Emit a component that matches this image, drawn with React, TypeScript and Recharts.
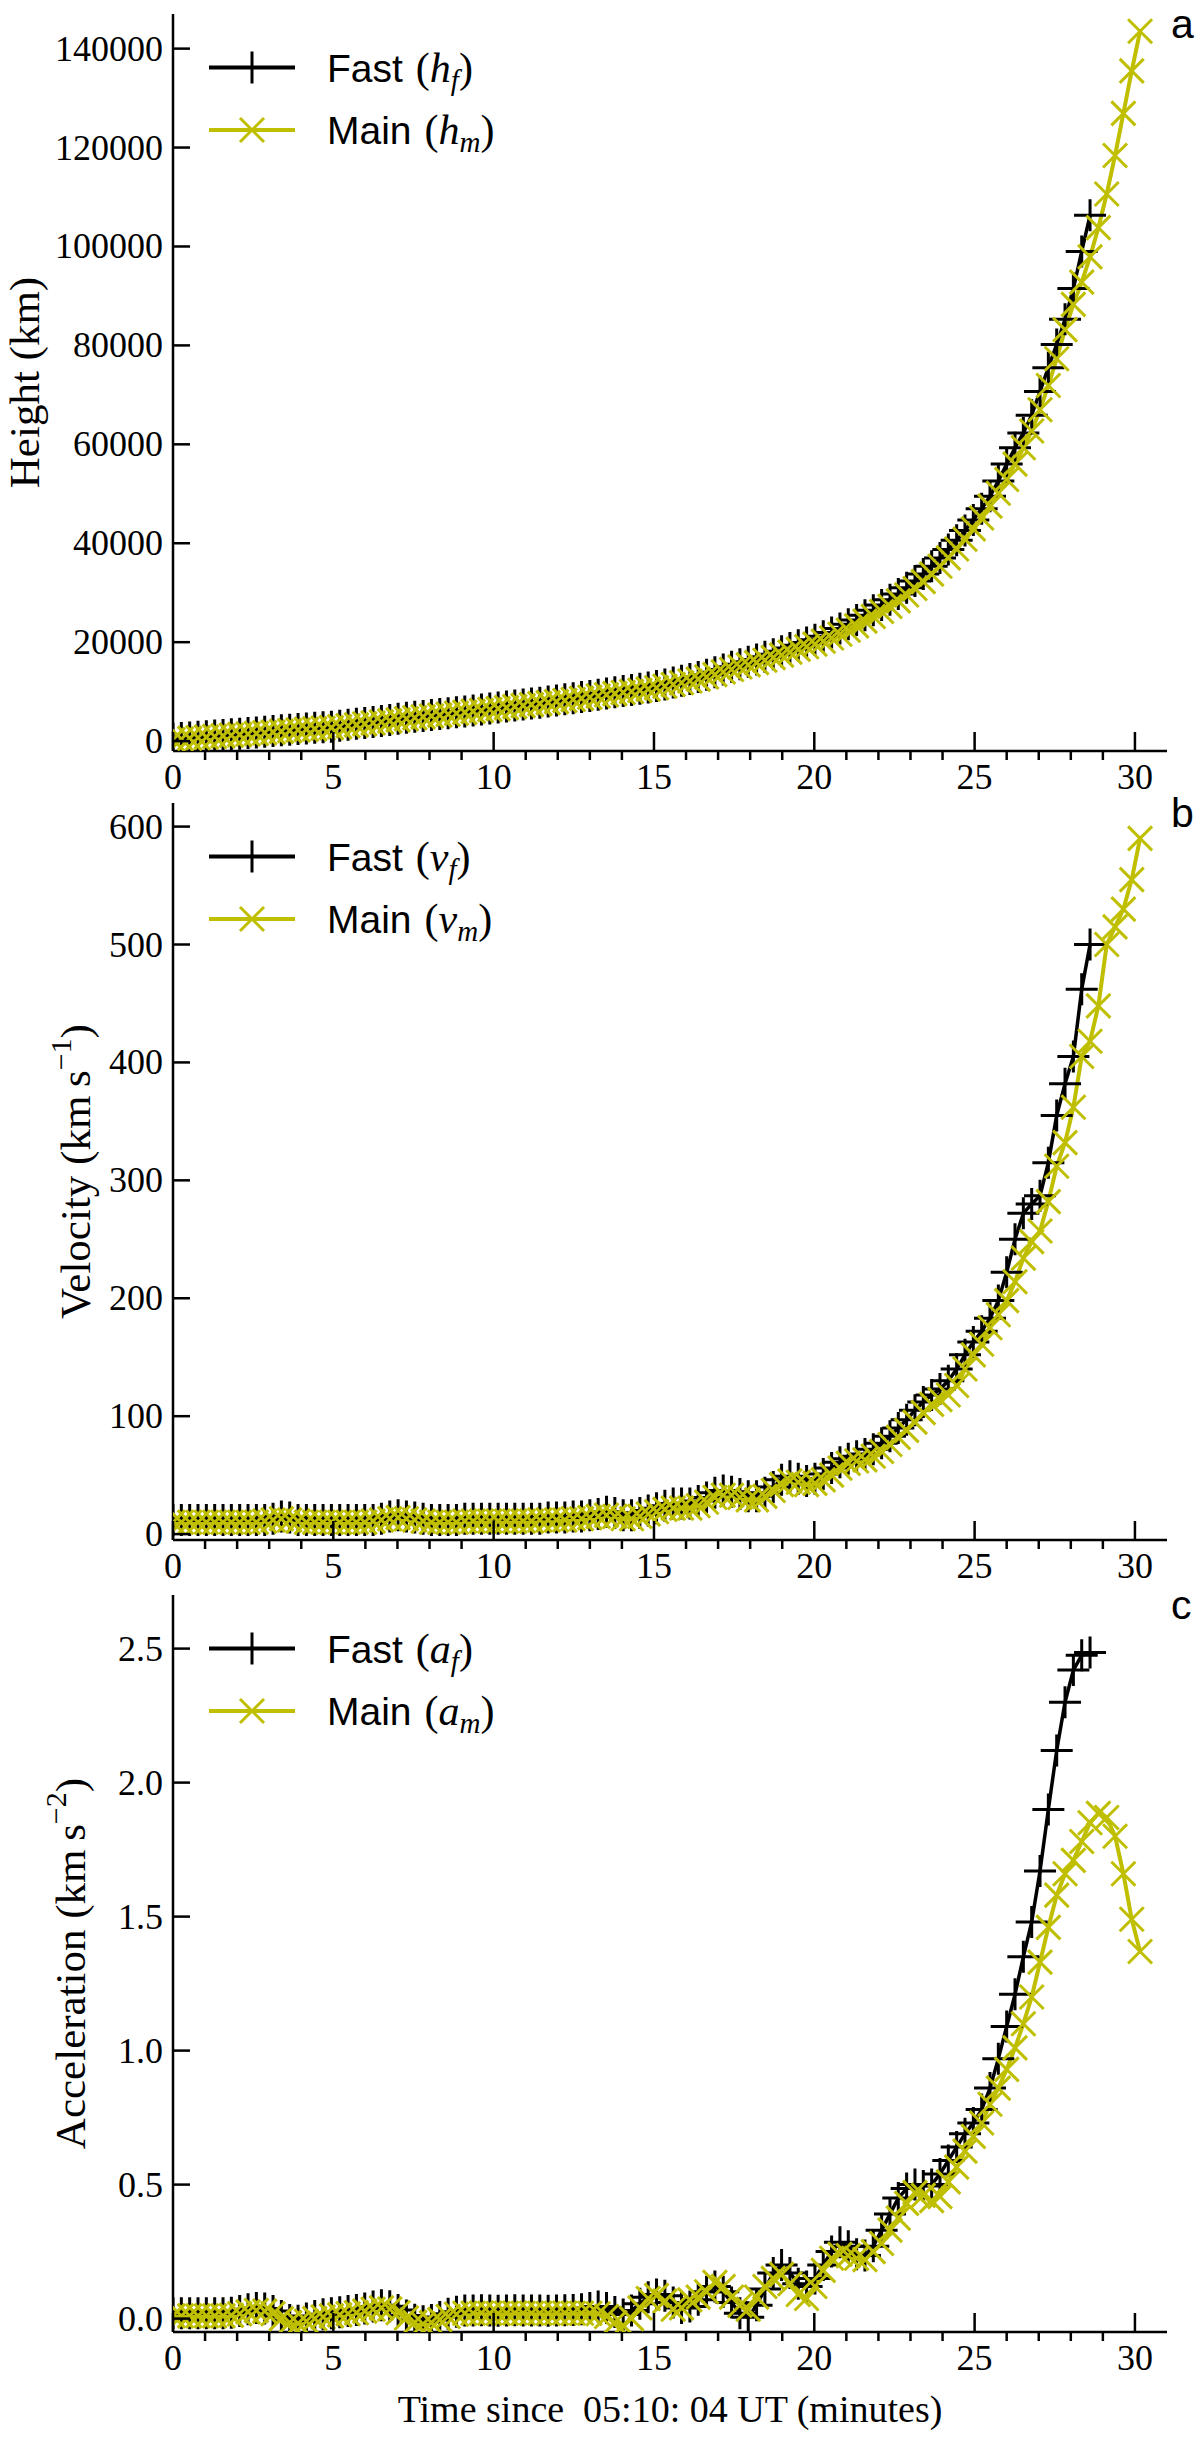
import { Label, Legend, Line, LineChart, XAxis, YAxis } from "recharts";

// sampling times (minutes since 05:10:04 UT)
const TIMES = [
  0, 0.26, 0.52, 0.78, 1.04, 1.3, 1.56, 1.82, 2.08, 2.34,
  2.6, 2.86, 3.12, 3.38, 3.64, 3.9, 4.16, 4.42, 4.68, 4.94,
  5.2, 5.46, 5.72, 5.98, 6.24, 6.5, 6.76, 7.02, 7.28, 7.54,
  7.8, 8.06, 8.32, 8.58, 8.84, 9.1, 9.36, 9.62, 9.88, 10.14,
  10.4, 10.66, 10.92, 11.18, 11.44, 11.7, 11.96, 12.22, 12.48, 12.74,
  13.0, 13.26, 13.52, 13.78, 14.04, 14.3, 14.56, 14.82, 15.08, 15.34,
  15.6, 15.86, 16.12, 16.38, 16.64, 16.9, 17.16, 17.42, 17.68, 17.94,
  18.2, 18.46, 18.72, 18.98, 19.24, 19.5, 19.76, 20.02, 20.28, 20.54,
  20.8, 21.06, 21.32, 21.58, 21.84, 22.1, 22.36, 22.62, 22.88, 23.14,
  23.4, 23.66, 23.92, 24.18, 24.44, 24.7, 24.96, 25.22, 25.48, 25.74,
  26.0, 26.26, 26.52, 26.78, 27.04, 27.3, 27.56, 27.82, 28.08, 28.34,
  28.6, 28.86, 29.12, 29.38, 29.64, 29.9, 30.16,
];

const HEIGHT_FAST = [
  500, 625, 750, 875, 1000, 1125, 1250, 1375, 1500, 1625,
  1750, 1880, 2020, 2170, 2310, 2440, 2560, 2680, 2800, 2920,
  3110, 3300, 3490, 3680, 3870, 4070, 4280, 4500, 4710, 4910,
  5100, 5280, 5460, 5640, 5820, 6010, 6200, 6390, 6580, 6770,
  6980, 7180, 7380, 7580, 7780, 7990, 8210, 8450, 8670, 8900,
  9130, 9380, 9650, 9900, 10110, 10330, 10570, 10840, 11130, 11460,
  11830, 12200, 12570, 12970, 13420, 13930, 14480, 15030, 15550, 16030,
  16510, 17030, 17550, 18150, 18800, 19400, 19950, 20500, 21200, 21950,
  22750, 23600, 24500, 25450, 26450, 27500, 28600, 29750, 31000, 32350,
  33800, 35350, 37000, 38750, 40600, 42600, 44700, 47000, 49500, 52600,
  56000, 59300, 62300, 65900, 70700, 75500, 80200, 85300, 91500, 99000,
  106300,
];
const HEIGHT_MAIN = [
  300, 425, 550, 675, 800, 925, 1050, 1175, 1300, 1425,
  1550, 1680, 1820, 1970, 2110, 2240, 2360, 2480, 2600, 2720,
  2910, 3100, 3290, 3480, 3670, 3870, 4080, 4300, 4510, 4710,
  4900, 5080, 5260, 5440, 5620, 5810, 6000, 6190, 6380, 6570,
  6780, 6980, 7180, 7380, 7580, 7780, 7990, 8200, 8420, 8640,
  8870, 9110, 9370, 9610, 9820, 10030, 10260, 10510, 10790, 11100,
  11450, 11800, 12150, 12530, 12960, 13440, 13960, 14480, 14970, 15420,
  15870, 16350, 16880, 17380, 17980, 18550, 19080, 19600, 20200, 20850,
  21600, 22400, 23300, 24250, 25200, 26200, 27250, 28350, 29550, 30850,
  32250, 33750, 35350, 37050, 38850, 40800, 42900, 45100, 47500, 50100,
  52900, 56000, 59300, 62700, 67000, 71900, 77300, 83200, 88300, 92800,
  97900, 103800, 110600, 118400, 126900, 135500, 143500,
];

const VEL_FAST = [
  12, 12, 12, 12, 12, 12, 12, 12, 12, 12,
  12, 12, 13, 15, 14, 12, 12, 12, 12, 12,
  12, 12, 12, 12, 12, 13, 15, 16, 15, 14,
  13, 12, 12, 12, 12, 13, 13, 13, 13, 13,
  13, 13, 13, 13, 13, 14, 14, 14, 15, 15,
  16, 17, 19, 18, 16, 16, 18, 20, 22, 24,
  26, 26, 26, 28, 31, 35, 37, 36, 34, 32,
  32, 35, 40, 46, 49, 47, 45, 47, 51, 56,
  61, 64, 66, 68, 72, 77, 83, 90, 97, 105,
  112, 118, 123, 130, 140, 152, 163, 172, 183, 198,
  222, 250, 272, 280, 287, 315, 355, 382, 405, 462,
  500,
];
const VEL_MAIN = [
  10, 10, 10, 10, 10, 10, 10, 10, 10, 10,
  10, 11, 12, 13, 12, 11, 10, 10, 10, 10,
  10, 10, 10, 10, 11, 12, 13, 14, 13, 12,
  11, 10, 10, 10, 10, 11, 11, 11, 11, 11,
  11, 11, 11, 11, 12, 12, 12, 12, 13, 13,
  14, 15, 16, 15, 13, 13, 15, 17, 19, 21,
  22, 22, 22, 24, 27, 31, 33, 33, 31, 29,
  29, 32, 37, 42, 45, 44, 42, 43, 46, 50,
  56, 60, 62, 63, 66, 70, 76, 82, 88, 95,
  103, 110, 114, 118, 126, 140, 152, 161, 175, 186,
  198, 214, 234, 248, 257, 282, 312, 332, 362, 405,
  418, 448, 500, 515, 530, 555, 590,
];

const ACC_FAST = [
  0.02, 0.02, 0.02, 0.02, 0.02, 0.02, 0.02, 0.022, 0.028, 0.035,
  0.04, 0.038, 0.028, 0.01, -0.005, -0.008, 0.0, 0.01, 0.016, 0.02,
  0.024, 0.028, 0.032, 0.038, 0.045, 0.05, 0.046, 0.032, 0.012, -0.004,
  -0.01, -0.005, 0.006, 0.018, 0.026, 0.03, 0.03, 0.031, 0.03, 0.029,
  0.03, 0.031, 0.03, 0.03, 0.03, 0.029, 0.03, 0.031, 0.032, 0.035,
  0.04, 0.045, 0.04, 0.025, 0.015, 0.03, 0.055, 0.08, 0.09, 0.085,
  0.06, 0.04, 0.045, 0.07, 0.1, 0.12, 0.1, 0.06, 0.02, 0.005,
  0.05, 0.11, 0.17, 0.2, 0.17, 0.13, 0.12, 0.15, 0.2, 0.25,
  0.285, 0.27, 0.24, 0.235, 0.27, 0.33, 0.39, 0.45, 0.485, 0.5,
  0.495, 0.5, 0.54, 0.59, 0.64, 0.69, 0.73, 0.78, 0.86, 0.97,
  1.09, 1.21, 1.35, 1.48, 1.67, 1.9, 2.12, 2.3, 2.42, 2.475,
  2.485,
];
const ACC_MAIN = [
  0.01, 0.01, 0.01, 0.01, 0.01, 0.01, 0.01, 0.012, 0.018, 0.025,
  0.03, 0.028, 0.018, 0.0, -0.015, -0.018, -0.01, 0.0, 0.006, 0.01,
  0.014, 0.018, 0.022, 0.028, 0.035, 0.04, 0.036, 0.022, 0.002, -0.014,
  -0.02, -0.015, -0.004, 0.008, 0.016, 0.02, 0.02, 0.021, 0.02, 0.019,
  0.02, 0.021, 0.02, 0.02, 0.02, 0.019, 0.02, 0.021, 0.02, 0.02,
  0.02, 0.018, 0.008, -0.015, -0.025, 0.0, 0.04, 0.075, 0.086, 0.065,
  0.035, 0.04, 0.07, 0.08, 0.1, 0.135, 0.12, 0.08, 0.05, 0.035,
  0.08, 0.12, 0.15, 0.165, 0.13, 0.09, 0.075, 0.12, 0.18, 0.225,
  0.24, 0.235, 0.225, 0.22, 0.25, 0.28, 0.33, 0.375, 0.43, 0.47,
  0.46, 0.44, 0.455, 0.51, 0.565, 0.625, 0.68, 0.73, 0.8, 0.86,
  0.93, 1.01, 1.1, 1.2, 1.33, 1.46, 1.58, 1.66, 1.71, 1.78,
  1.85, 1.885, 1.87, 1.8, 1.66, 1.49, 1.37,
];

const X_TICKS = [
  0, 1, 2, 3, 4, 5, 6, 7, 8, 9, 10, 11, 12, 13, 14, 15,
  16, 17, 18, 19, 20, 21, 22, 23, 24, 25, 26, 27, 28, 29, 30,
];
const HEIGHT_TICKS = [0, 20000, 40000, 60000, 80000, 100000, 120000, 140000];
const VEL_TICKS = [0, 100, 200, 300, 400, 500, 600];
const ACC_TICKS = [0, 0.5, 1, 1.5, 2, 2.5];

const SERIF = '"Liberation Serif", "DejaVu Serif", serif';
const SANS = '"Liberation Sans", Arial, sans-serif';
const YELLOW = "#bfbf00";

const CHART_W = 1200;
const PLOT_LEFT = 173;
const PLOT_RIGHT = 1167;
const TOP_PAD = 14;
const PLOT_H = 737;
const X_AXIS_H = 110;
const CHART_H = TOP_PAD + PLOT_H + X_AXIS_H;
const PLOT_BOTTOM = TOP_PAD + PLOT_H;

const plusPath = (x: number, y: number) => `M${x - 16},${y}H${x + 16}M${x},${y - 16}V${y + 16}`;
const crossPath = (x: number, y: number) =>
  `M${x - 12},${y - 12}L${x + 12},${y + 12}M${x - 12},${y + 12}L${x + 12},${y - 12}`;

// eslint-disable-next-line @typescript-eslint/no-explicit-any
function plusDot(props: any) {
  const { cx, cy, index } = props;
  if (cx == null || cy == null || Number.isNaN(cy)) return <g key={`p${index}`} />;
  return <path key={`p${index}`} d={plusPath(cx, cy)} stroke="#000" strokeWidth={3} fill="none" />;
}

// eslint-disable-next-line @typescript-eslint/no-explicit-any
function crossDot(props: any) {
  const { cx, cy, index } = props;
  if (cx == null || cy == null || Number.isNaN(cy)) return <g key={`x${index}`} />;
  return <path key={`x${index}`} d={crossPath(cx, cy)} stroke={YELLOW} strokeWidth={3} fill="none" />;
}

// major ticks point inward with a label, minor ticks point outward
// eslint-disable-next-line @typescript-eslint/no-explicit-any
function XTick(props: any) {
  const { x, payload } = props;
  const v = payload.value;
  if (v % 5 !== 0) {
    return <line x1={x} x2={x} y1={PLOT_BOTTOM} y2={PLOT_BOTTOM + 9} stroke="#000" strokeWidth={2.5} />;
  }
  return (
    <g>
      <line x1={x} x2={x} y1={PLOT_BOTTOM} y2={PLOT_BOTTOM - 19} stroke="#000" strokeWidth={2.5} />
      <text x={x} y={PLOT_BOTTOM + 38} textAnchor="middle" fontFamily={SERIF} fontSize={36} fill="#000">
        {v}
      </text>
    </g>
  );
}

function makeYTick(fmt: (v: number) => string) {
  // eslint-disable-next-line @typescript-eslint/no-explicit-any
  return function YTick(props: any) {
    const { y, payload } = props;
    return (
      <g>
        <line x1={PLOT_LEFT} x2={PLOT_LEFT + 17} y1={y} y2={y} stroke="#000" strokeWidth={2.5} />
        <text
          x={PLOT_LEFT - 10}
          y={y}
          textAnchor="end"
          dominantBaseline="central"
          fontFamily={SERIF}
          fontSize={36}
          fill="#000"
        >
          {fmt(payload.value)}
        </text>
      </g>
    );
  };
}

// legend box plus the panel letter at the top-right corner
function LegendBox({ sym, letter }: { sym: string; letter: string }) {
  const rows = [
    { name: "Fast", sub: "f", color: "#000", plus: true },
    { name: "Main", sub: "m", color: YELLOW, plus: false },
  ];
  return (
    <svg width={CHART_W} height={170} style={{ display: "block" }}>
      {rows.map((r, k) => {
        const cy = TOP_PAD + 53.6 + k * 62.4;
        return (
          <g key={r.name}>
            <line x1={209} x2={295} y1={cy} y2={cy} stroke={r.color} strokeWidth={4} />
            <path
              d={r.plus ? plusPath(252, cy) : crossPath(252, cy)}
              stroke={r.color}
              strokeWidth={3}
              fill="none"
            />
            <text x={327} y={cy + 14} fontSize={39} fontFamily={SANS} fill="#000">
              {r.name}
              <tspan fontFamily={SERIF} fontSize={42} dx={13}>(</tspan>
              <tspan fontFamily={SERIF} fontSize={42} fontStyle="italic">{sym}</tspan>
              <tspan fontFamily={SERIF} fontSize={29} fontStyle="italic" dy={8}>{r.sub}</tspan>
              <tspan fontFamily={SERIF} fontSize={42} dy={-8}>)</tspan>
            </text>
          </g>
        );
      })}
      <text x={PLOT_RIGHT + 4} y={TOP_PAD + 24} fontFamily={SANS} fontSize={41} fill="#000">
        {letter}
      </text>
    </svg>
  );
}

interface PanelProps {
  top: number;
  fast: number[];
  main: number[];
  domain: [number, number];
  ticks: number[];
  fmt: (v: number) => string;
  label: string;
  sup?: string;
  labelX: number;
  letter: string;
  sym: string;
  xTitle?: string;
}

function Panel({ top, fast, main, domain, ticks, fmt, label, sup, labelX, letter, sym, xTitle }: PanelProps) {
  const rows = TIMES.map((t, i) => ({
    t,
    fast: i < fast.length ? fast[i] : null,
    main: i < main.length ? main[i] : null,
  }));
  const midY = TOP_PAD + PLOT_H / 2;
  const frame = { stroke: "#000", strokeWidth: 2.5 };

  return (
    <div style={{ position: "absolute", left: 0, top: top - TOP_PAD }}>
      <LineChart
        width={CHART_W}
        height={CHART_H}
        data={rows}
        margin={{ top: TOP_PAD, right: CHART_W - PLOT_RIGHT, bottom: 0, left: 0 }}
      >
        <XAxis
          dataKey="t"
          type="number"
          domain={[0, 31]}
          ticks={X_TICKS}
          interval={0}
          height={X_AXIS_H}
          tickLine={false}
          axisLine={frame}
          tick={XTick}
          allowDataOverflow
        >
          {xTitle ? (
            <Label
              content={() => (
                <text
                  x={(PLOT_LEFT + PLOT_RIGHT) / 2}
                  y={PLOT_BOTTOM + 90}
                  textAnchor="middle"
                  fontFamily={SERIF}
                  fontSize={38}
                  fill="#000"
                  style={{ whiteSpace: "pre" }}
                >
                  {xTitle}
                </text>
              )}
            />
          ) : null}
        </XAxis>
        <XAxis
          xAxisId="top"
          orientation="top"
          type="number"
          domain={[0, 31]}
          height={0}
          tick={false}
          tickLine={false}
          axisLine={frame}
        />
        <YAxis
          type="number"
          domain={domain}
          ticks={ticks}
          interval={0}
          width={PLOT_LEFT}
          tickLine={false}
          axisLine={frame}
          tick={makeYTick(fmt)}
          allowDataOverflow
        >
          <Label
            content={() => (
              <text
                x={labelX}
                y={midY}
                transform={`rotate(-90 ${labelX} ${midY})`}
                textAnchor="middle"
                dominantBaseline="central"
                fontFamily={SERIF}
                fontSize={43}
                fill="#000"
              >
                {label}
                {sup ? (
                  <>
                    <tspan fontSize={30} dy={-15}>{sup}</tspan>
                    <tspan dy={15}>)</tspan>
                  </>
                ) : null}
              </text>
            )}
          />
        </YAxis>
        <YAxis
          yAxisId="right"
          orientation="right"
          type="number"
          domain={[0, 1]}
          width={0}
          tick={false}
          tickLine={false}
          axisLine={frame}
        />
        <Legend
          layout="vertical"
          align="center"
          verticalAlign="middle"
          wrapperStyle={{ left: 0, top: 0, width: CHART_W, height: 170 }}
          content={() => <LegendBox sym={sym} letter={letter} />}
        />
        <Line
          type="linear"
          dataKey="fast"
          stroke="#000"
          strokeWidth={3.5}
          dot={plusDot}
          activeDot={false}
          isAnimationActive={false}
        />
        <Line
          type="linear"
          dataKey="main"
          stroke={YELLOW}
          strokeWidth={4}
          dot={crossDot}
          activeDot={false}
          isAnimationActive={false}
        />
      </LineChart>
    </div>
  );
}

export default function App() {
  return (
    <div style={{ position: "absolute", left: 0, top: 0, width: 1200, height: 2455, background: "#fff" }}>
      <Panel
        top={14}
        fast={HEIGHT_FAST}
        main={HEIGHT_MAIN}
        domain={[-2000, 147000]}
        ticks={HEIGHT_TICKS}
        fmt={(v) => String(v)}
        label="Height (km)"
        labelX={24}
        letter="a"
        sym="h"
      />
      <Panel
        top={803}
        fast={VEL_FAST}
        main={VEL_MAIN}
        domain={[-5, 620]}
        ticks={VEL_TICKS}
        fmt={(v) => String(v)}
        label={"Velocity (km\u2009s"}
        sup={"\u22121"}
        labelX={75}
        letter="b"
        sym="v"
      />
      <Panel
        top={1595}
        fast={ACC_FAST}
        main={ACC_MAIN}
        domain={[-0.05, 2.7]}
        ticks={ACC_TICKS}
        fmt={(v) => v.toFixed(1)}
        label={"Acceleration (km\u2009s"}
        sup={"\u22122"}
        labelX={70}
        letter="c"
        sym="a"
        xTitle={"Time since  05:10: 04 UT (minutes)"}
      />
    </div>
  );
}
